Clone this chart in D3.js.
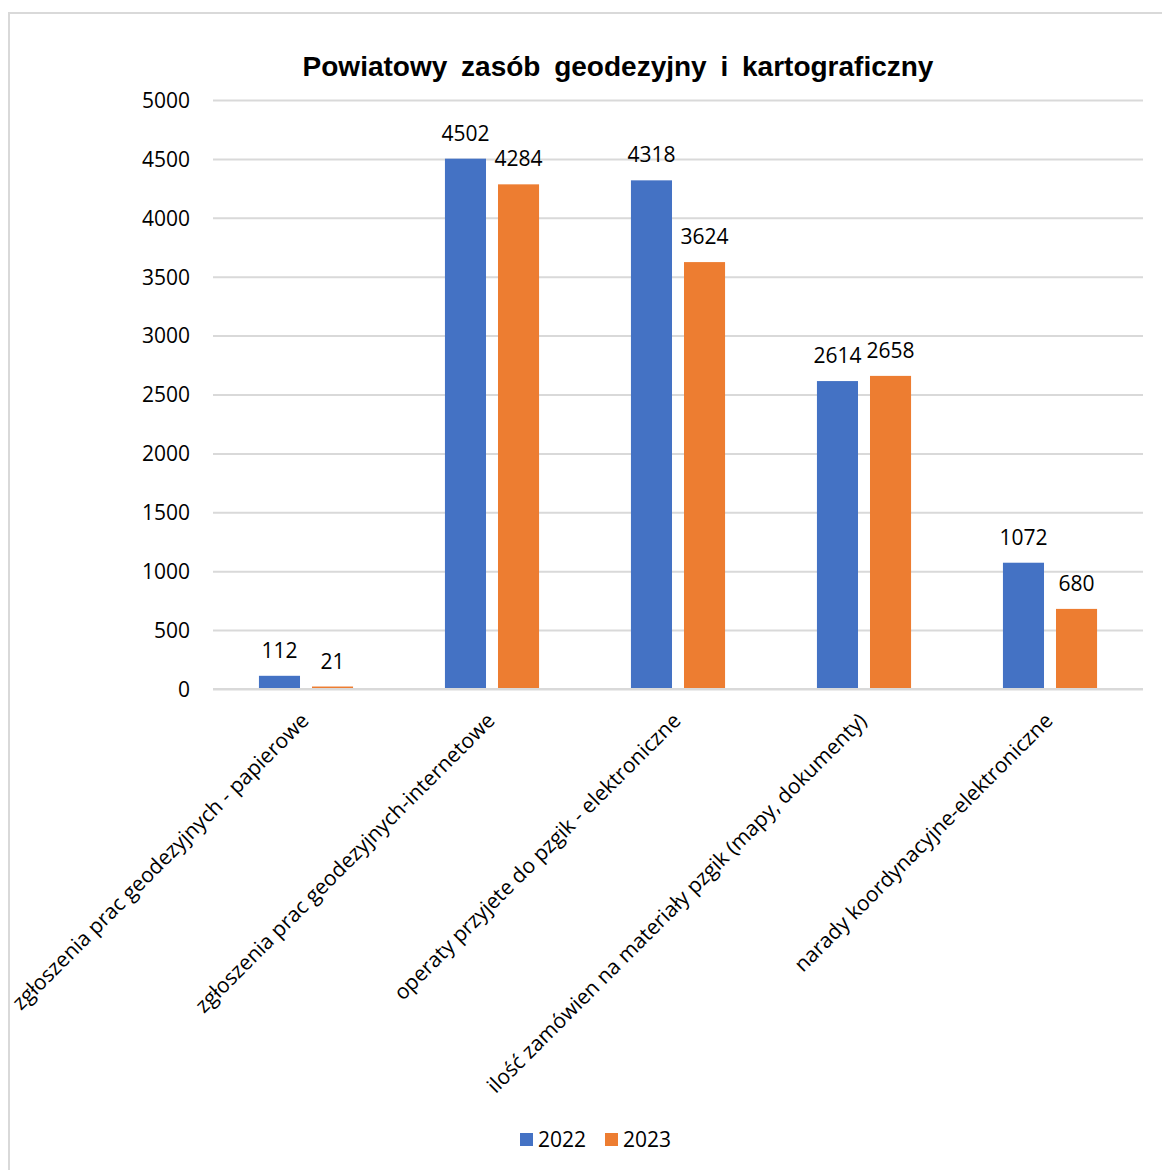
<!DOCTYPE html>
<html><head><meta charset="utf-8">
<script src="https://cdn.jsdelivr.net/npm/d3@7"></script>
<style>
body{margin:0;background:#fff;}
svg{display:block;}
</style></head>
<body>
<script>
const categories = [
  "zgłoszenia prac geodezyjnych - papierowe",
  "zgłoszenia prac geodezyjnych-internetowe",
  "operaty przyjete do pzgik - elektroniczne",
  "ilość zamówien na materiały pzgik (mapy, dokumenty)",
  "narady koordynacyjne-elektroniczne"
];
const seriesNames = ["2022", "2023"];
const values2022 = [112, 4502, 4318, 2614, 1072];
const values2023 = [21, 4284, 3624, 2658, 680];
const yTicks = [0, 500, 1000, 1500, 2000, 2500, 3000, 3500, 4000, 4500, 5000];
const colors = ["#4472C4", "#ED7D31"];
const chartTitle = "Powiatowy zasób geodezyjny i kartograficzny";

(function(){
const W = 1162, H = 1170;
const svg = d3.select("body").append("svg").attr("width", W).attr("height", H);
const font = "'Open Sans', 'Noto Sans', sans-serif";
const fs = 21;

// frame
svg.append("path").attr("d", `M9,${H} L9,13 L${W},13`).attr("fill","none").attr("stroke","#d9d9d9").attr("stroke-width",2);

const pL = 213, pR = 1143, pT = 100, pB = 689;
const x = d3.scaleBand().domain(categories).range([pL, pR]);
const y = d3.scaleLinear().domain([0, 5000]).range([pB, pT]);

svg.append("text").attr("x", 618).attr("y", 76).attr("text-anchor","middle")
  .attr("font-family","'Liberation Sans', Arial, sans-serif").attr("font-weight","bold").attr("font-size",28)
  .attr("word-spacing", 6)
  .attr("fill","#000").text(chartTitle);

// grid
const grid = svg.append("g").attr("transform",`translate(${pL},0)`)
  .call(d3.axisLeft(y).tickValues(yTicks).tickSize(-(pR-pL)).tickFormat(""));
grid.select(".domain").remove();
grid.selectAll("line").attr("stroke","#d9d9d9").attr("stroke-width",2);

// y labels
const yAxis = svg.append("g").attr("transform",`translate(190,0)`)
  .call(d3.axisLeft(y).tickValues(yTicks).tickSize(0).tickPadding(0).tickFormat(d3.format("d")));
yAxis.select(".domain").remove();
yAxis.selectAll("text").attr("font-family",font).attr("font-size",fs).attr("fill","#000").attr("dy","0.35em");

const bw = x.bandwidth();
const sub = d3.scaleBand().domain(seriesNames).range([bw*0.247, bw*0.753]).paddingInner(0.226).paddingOuter(0);
const series = [values2022, values2023];

series.forEach((vals, si) => {
  const g = svg.append("g");
  g.selectAll("rect").data(vals).join("rect")
    .attr("x", (d,i) => x(categories[i]) + sub(seriesNames[si]))
    .attr("y", d => y(d))
    .attr("width", sub.bandwidth())
    .attr("height", d => pB - y(d))
    .attr("fill", colors[si]);
  g.selectAll("text").data(vals).join("text")
    .attr("x", (d,i) => x(categories[i]) + sub(seriesNames[si]) + sub.bandwidth()/2)
    .attr("y", d => y(d) - 18)
    .attr("text-anchor","middle")
    .attr("font-family",font).attr("font-size",fs).attr("fill","#000")
    .text(d => d);
});

// x axis baseline
svg.append("line").attr("x1",pL).attr("x2",pR).attr("y1",pB).attr("y2",pB).attr("stroke","#d9d9d9").attr("stroke-width",2);

// category labels
const xAxis = svg.append("g").attr("transform",`translate(0,${pB})`)
  .call(d3.axisBottom(x).tickSize(0).tickPadding(0));
xAxis.select(".domain").remove();
xAxis.selectAll("text")
  .attr("font-family",font).attr("font-size",fs).attr("fill","#000")
  .attr("text-anchor","end")
  .attr("dy",null).attr("y",0)
  .attr("transform","translate(4,33) rotate(-45)");

// legend
const leg = svg.append("g");
const legX = [520, 605];
seriesNames.forEach((s, i) => {
  leg.append("rect").attr("x", legX[i]).attr("y", 1133).attr("width", 13).attr("height", 13).attr("fill", colors[i]);
  leg.append("text").attr("x", legX[i] + 18).attr("y", 1140).attr("dy","0.35em")
    .attr("font-family",font).attr("font-size",fs).attr("fill","#000").text(s);
});
})();
</script>
</body></html>
